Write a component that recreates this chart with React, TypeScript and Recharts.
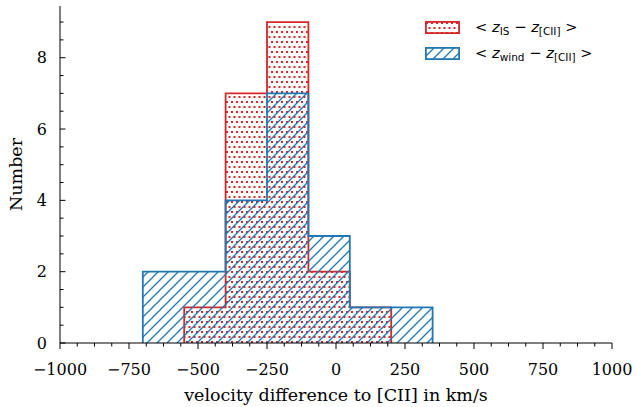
import { ComposedChart, Area, XAxis, YAxis, Legend, Label } from "recharts";

// histogram bins (km/s) and counts per bin
const binEdges = [-700, -550, -400, -250, -100, 50, 200, 350];
const isCounts = [0, 1, 7, 9, 2, 1, 0];
const windCounts = [2, 2, 4, 7, 3, 1, 1];

const xMajorTicks = [-1000, -750, -500, -250, 0, 250, 500, 750, 1000];
const yMajorTicks = [0, 2, 4, 6, 8];

const RED = "#d62728";
const BLUE = "#1f77b4";
const SERIF = "'DejaVu Serif', serif";
const SANS = "'DejaVu Sans', sans-serif";

// minor ticks: 4 subdivisions between majors
const xTicks: number[] = [];
for (let v = -1000; v <= 1000; v += 62.5) xTicks.push(v);
const yTicks: number[] = [];
for (let v = 0; v <= 9; v += 0.5) yTicks.push(v);

// outline points for a stepAfter area, trimmed of empty end bins
function stepPoints(counts: number[]) {
  const first = counts.findIndex((c) => c > 0);
  let last = counts.length - 1;
  while (last > first && counts[last] === 0) last--;
  const pts = [{ x: binEdges[first], y: 0 }];
  for (let i = first; i <= last; i++) pts.push({ x: binEdges[i], y: counts[i] });
  pts.push({ x: binEdges[last + 1], y: 0 });
  return pts;
}

const isData = stepPoints(isCounts);
const windData = stepPoints(windCounts);

const fmt = (v: number) => (v < 0 ? "\u2212" + Math.abs(v) : String(v));

const BottomTick = (p: any) => {
  const v = p.payload.value;
  const major = xMajorTicks.includes(v);
  return (
    <g>
      <line x1={p.x} x2={p.x} y1={p.y} y2={p.y + (major ? 6 : 3.5)} stroke="#000" strokeWidth={1} />
      {major && (
        <text x={p.x} y={p.y + 32} textAnchor="middle" fontSize={16} fontFamily={SERIF} fill="#000">
          {fmt(v)}
        </text>
      )}
    </g>
  );
};

const TopTick = (p: any) => {
  const major = xMajorTicks.includes(p.payload.value);
  return <line x1={p.x} x2={p.x} y1={p.y} y2={p.y + (major ? 5.5 : 3.5)} stroke="#000" strokeWidth={1} />;
};

const LeftTick = (p: any) => {
  const v = p.payload.value;
  const major = yMajorTicks.includes(v);
  return (
    <g>
      <line x1={p.x} x2={p.x + (major ? 5.5 : 3.5)} y1={p.y} y2={p.y} stroke="#000" strokeWidth={1} />
      {major && (
        <text x={p.x - 13} y={p.y} dy="0.36em" textAnchor="end" fontSize={16} fontFamily={SERIF} fill="#000">
          {fmt(v)}
        </text>
      )}
    </g>
  );
};

const RightTick = (p: any) => {
  const major = yMajorTicks.includes(p.payload.value);
  return <line x1={p.x} x2={p.x - (major ? 5.5 : 3.5)} y1={p.y} y2={p.y} stroke="#000" strokeWidth={1} />;
};

const legendItems = [
  { key: "is", color: RED, pattern: "dots", sub: "IS" },
  { key: "wind", color: BLUE, pattern: "hatch", sub: "wind" },
];

const subStyle = { fontSize: 10.5, position: "relative" as const, top: 3 };

const LegendBox = () => (
  <div style={{ fontFamily: SANS, fontSize: 14.7, color: "#000", lineHeight: 1 }}>
    {legendItems.map((item) => (
      <div key={item.key} style={{ display: "flex", alignItems: "center", height: 26 }}>
        <svg width={35} height={13} style={{ flex: "none" }}>
          <rect x={0.9} y={0.9} width={33.2} height={11.2} fill={`url(#${item.pattern})`} stroke={item.color} strokeWidth={1.8} />
        </svg>
        <span style={{ marginLeft: 15, whiteSpace: "nowrap" }}>
          {"< "}
          <i>z</i>
          <span style={subStyle}>{item.sub}</span>
          {" \u2212 "}
          <i>z</i>
          <span style={subStyle}>[CII]</span>
          {" >"}
        </span>
      </div>
    ))}
  </div>
);

export default function App() {
  return (
    <div style={{ position: "absolute", left: 0, top: 0, background: "#fff" }}>
      <ComposedChart width={636} height={407} margin={{ top: 6, right: 24, left: 0, bottom: 0 }}>
        <defs>
          <pattern id="dots" patternUnits="userSpaceOnUse" width={5} height={10}>
            <rect x={1} y={1} width={2} height={2} fill={RED} />
            <rect x={3.5} y={6} width={2} height={2} fill={RED} />
            <rect x={-1.5} y={6} width={2} height={2} fill={RED} />
          </pattern>
          <pattern id="hatch" patternUnits="userSpaceOnUse" width={10} height={10}>
            <path d="M-1,1 L1,-1 M0,10 L10,0 M9,11 L11,9" stroke={BLUE} strokeWidth={1.3} />
          </pattern>
        </defs>
        <XAxis
          xAxisId="b"
          type="number"
          dataKey="x"
          domain={[-1000, 1000]}
          allowDataOverflow
          ticks={xTicks}
          interval={0}
          tickSize={0}
          tickMargin={0}
          tickLine={false}
          tick={BottomTick}
          height={64}
          axisLine={{ stroke: "#000", strokeWidth: 1 }}
        >
          <Label
            content={(props: any) => {
              const vb = props.viewBox;
              return (
                <text x={vb.x + vb.width / 2} y={vb.y + 58} textAnchor="middle" fontSize={17.5} fontFamily={SERIF} fill="#000">
                  velocity difference to [CII] in km/s
                </text>
              );
            }}
          />
        </XAxis>
        <XAxis
          xAxisId="t"
          orientation="top"
          type="number"
          domain={[-1000, 1000]}
          allowDataOverflow
          ticks={xTicks}
          interval={0}
          tickSize={0}
          tickMargin={0}
          tickLine={false}
          tick={TopTick}
          height={0}
          axisLine={{ stroke: "#000", strokeWidth: 1 }}
        />
        <YAxis
          yAxisId="l"
          type="number"
          domain={[0, 9.45]}
          allowDataOverflow
          ticks={yTicks}
          interval={0}
          tickSize={0}
          tickMargin={0}
          tickLine={false}
          tick={LeftTick}
          width={60}
          axisLine={{ stroke: "#000", strokeWidth: 1 }}
        >
          <Label
            content={(props: any) => {
              const vb = props.viewBox;
              const cx = vb.x + 22;
              const cy = vb.y + vb.height / 2;
              return (
                <text x={cx} y={cy} transform={`rotate(-90, ${cx}, ${cy})`} textAnchor="middle" fontSize={17.5} fontFamily={SERIF} fill="#000">
                  Number
                </text>
              );
            }}
          />
        </YAxis>
        <YAxis
          yAxisId="r"
          orientation="right"
          type="number"
          domain={[0, 9.45]}
          allowDataOverflow
          ticks={yTicks}
          interval={0}
          tickSize={0}
          tickMargin={0}
          tickLine={false}
          tick={RightTick}
          width={0}
          axisLine={{ stroke: "#000", strokeWidth: 1 }}
        />
        <Area
          xAxisId="b"
          yAxisId="l"
          data={isData}
          dataKey="y"
          type="stepAfter"
          stroke={RED}
          strokeWidth={1.8}
          fill="url(#dots)"
          fillOpacity={1}
          dot={false}
          activeDot={false}
          isAnimationActive={false}
        />
        <Area
          xAxisId="b"
          yAxisId="l"
          data={windData}
          dataKey="y"
          type="stepAfter"
          stroke={BLUE}
          strokeWidth={1.8}
          fill="url(#hatch)"
          fillOpacity={1}
          dot={false}
          activeDot={false}
          isAnimationActive={false}
        />
        <Legend
          layout="vertical"
          align="center"
          verticalAlign="middle"
          wrapperStyle={{ top: 14.5, left: 425, width: 200, height: 52 }}
          content={() => <LegendBox />}
        />
      </ComposedChart>
    </div>
  );
}
